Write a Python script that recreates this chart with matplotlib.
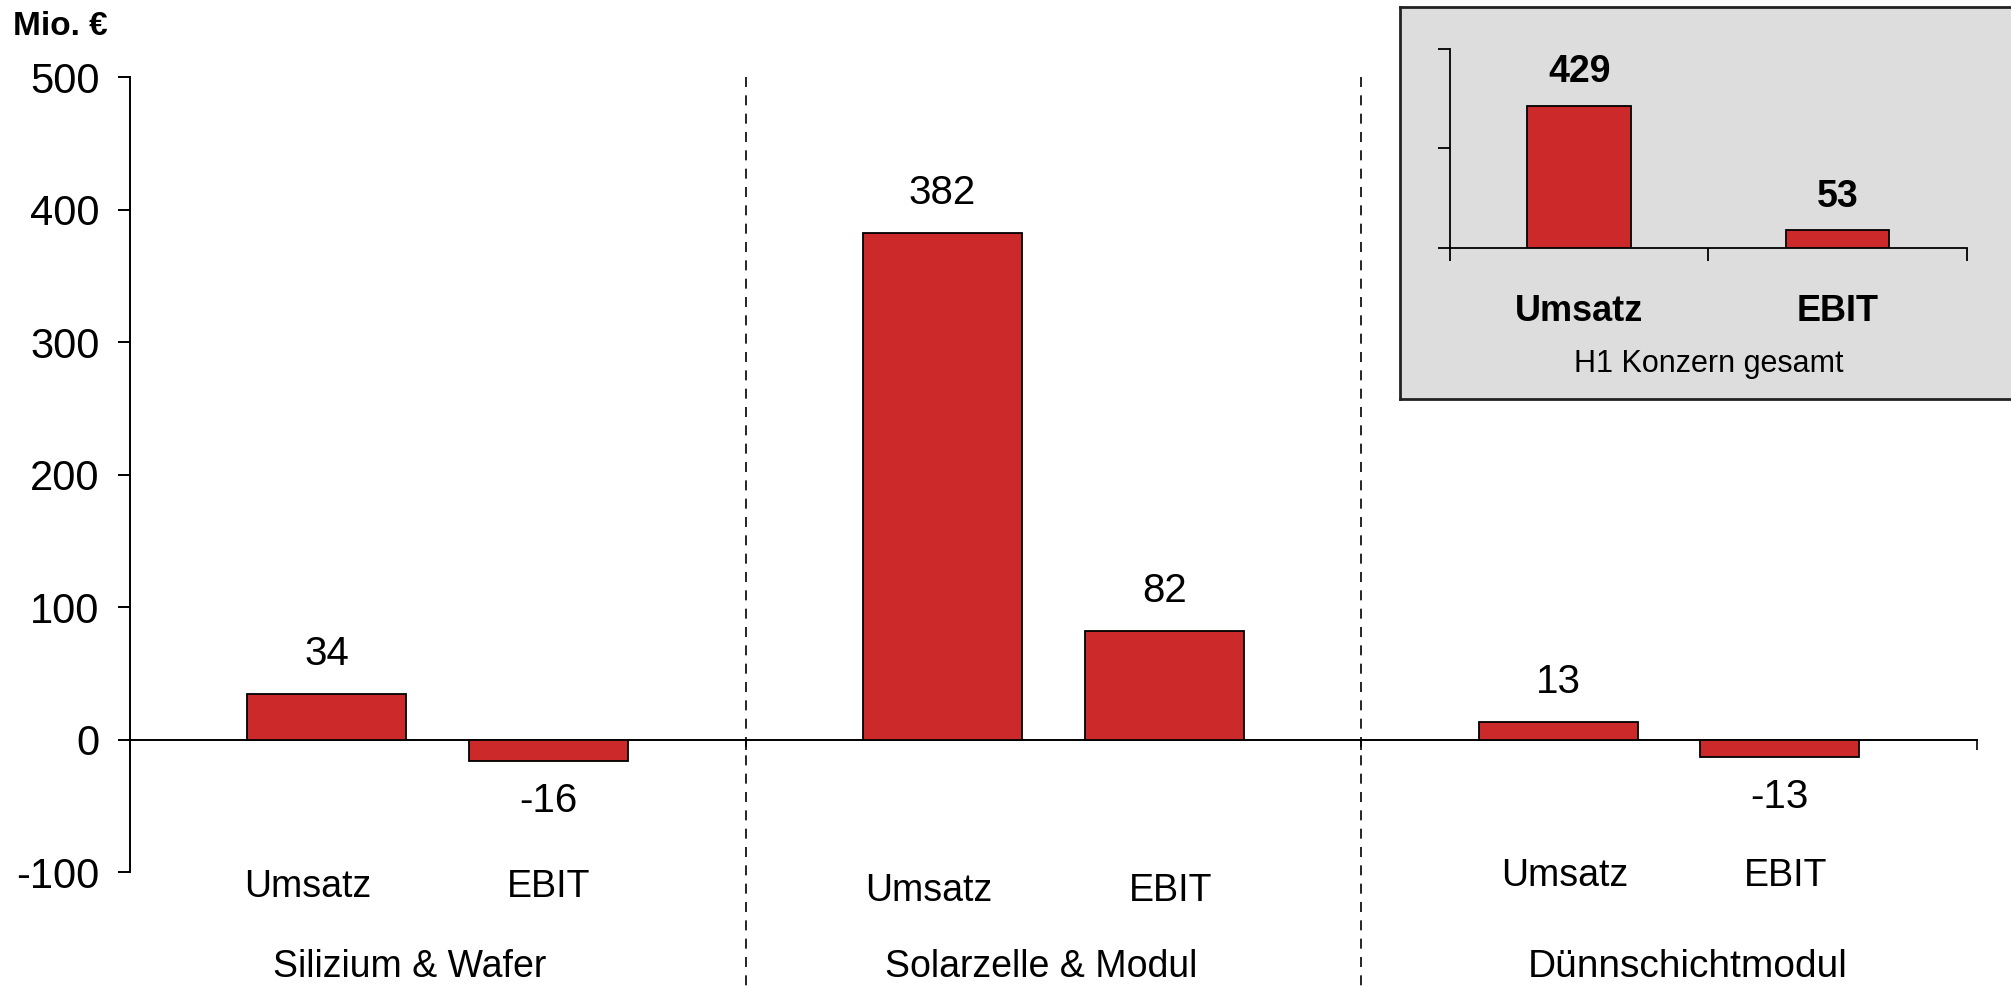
import matplotlib.pyplot as plt

plt.rcParams["font.family"] = ["Liberation Sans", "DejaVu Sans"]
plt.rcParams["axes.unicode_minus"] = False

segments = ["Silizium & Wafer", "Solarzelle & Modul", "Dünnschichtmodul"]
bar_names = ["Umsatz", "EBIT"]
umsatz = [34, 382, 13]
ebit = [-16, 82, -13]

konzern_names = ["Umsatz", "EBIT"]
konzern_values = [429, 53]
konzern_title = "H1 Konzern gesamt"

red = "#cc2a2a"

fig = plt.figure(figsize=(20.11, 9.86), dpi=100)

# ---- segments ----

ax = fig.add_axes([0.0646, 0.1156, 0.9184, 0.8063])
ax.set_xlim(0, 3)
ax.set_ylim(-100, 500)

width = 0.258
offsets = [0.32, 0.68]

# text placement under the bars, per segment
label_y = [-111, -114, -103]
label_dx = [[-0.031, 0.0], [-0.023, 0.01], [0.01, 0.01]]
segment_x = [0.455, 1.48, 2.53]
segment_size = [27, 27, 28]

for g, name in enumerate(segments):
    for k, val in enumerate([umsatz[g], ebit[g]]):
        x = g + offsets[k]
        ax.bar(x, val, width=width, color=red, edgecolor="black", linewidth=1.3, zorder=3)
        dy = 29 if val >= 0 else -29
        ax.annotate(f"{val}", (x, val), xytext=(0, dy), textcoords="offset points",
                    ha="center", va="center", fontsize=29)
        ax.text(x + label_dx[g][k], label_y[g], bar_names[k], ha="center", va="center",
                fontsize=27, clip_on=False)
    ax.text(segment_x[g], -172, name, ha="center", va="center", fontsize=segment_size[g],
            clip_on=False)

# dashed separators between segments
for g in [1, 2]:
    ax.plot([g, g], [1.0, -0.2], transform=ax.get_xaxis_transform(), color="black",
            linestyle=(0, (6, 5)), linewidth=1.2, clip_on=False)

ax.spines["top"].set_visible(False)
ax.spines["right"].set_visible(False)
ax.spines["bottom"].set_position(("data", 0))
ax.spines["left"].set_linewidth(1.4)
ax.spines["bottom"].set_linewidth(1.4)
ax.set_yticks([-100, 0, 100, 200, 300, 400, 500])
ax.set_xticks([0, 1, 2, 3])
ax.set_xticklabels([])
ax.tick_params(axis="y", direction="out", length=9, width=1.4, labelsize=30, pad=13)
ax.tick_params(axis="x", direction="out", length=7, width=1.2)

fig.text(0.0065, 0.973, "Mio. €", fontsize=24, fontweight="bold", ha="left", va="center")

# ---- group total box ----

box = fig.add_axes([0.6962, 0.5953, 0.32, 0.3976])
box.set_facecolor("#dddddd")
box.set_xticks([])
box.set_yticks([])
for s in box.spines.values():
    s.set_linewidth(2)
    s.set_color("#222222")

inset = fig.add_axes([0.7210, 0.7485, 0.2571, 0.2018])
inset.patch.set_visible(False)
inset.set_xlim(0, 2)
inset.set_ylim(0, 600)

for i, (name, val) in enumerate(zip(konzern_names, konzern_values)):
    x = i + 0.5
    inset.bar(x, val, width=0.4, color=red, edgecolor="black", linewidth=1.3, zorder=3)
    inset.annotate(f"{val}", (x, val), xytext=(0, 24), textcoords="offset points",
                   ha="center", va="center", fontsize=27, fontweight="bold")
    inset.text(x, -192, name, ha="center", va="center", fontsize=26, fontweight="bold",
               clip_on=False)

inset.text(1.0, -350, konzern_title, ha="center", va="center", fontsize=22, clip_on=False)

inset.spines["top"].set_visible(False)
inset.spines["right"].set_visible(False)
inset.spines["left"].set_linewidth(1.3)
inset.spines["bottom"].set_linewidth(1.3)
inset.set_yticks([0, 300, 600])
inset.set_yticklabels([])
inset.set_xticks([0, 1, 2])
inset.set_xticklabels([])
inset.tick_params(axis="y", direction="out", length=9, width=1.3)
inset.tick_params(axis="x", direction="out", length=9, width=1.3)

plt.savefig("out.png", dpi=100)
